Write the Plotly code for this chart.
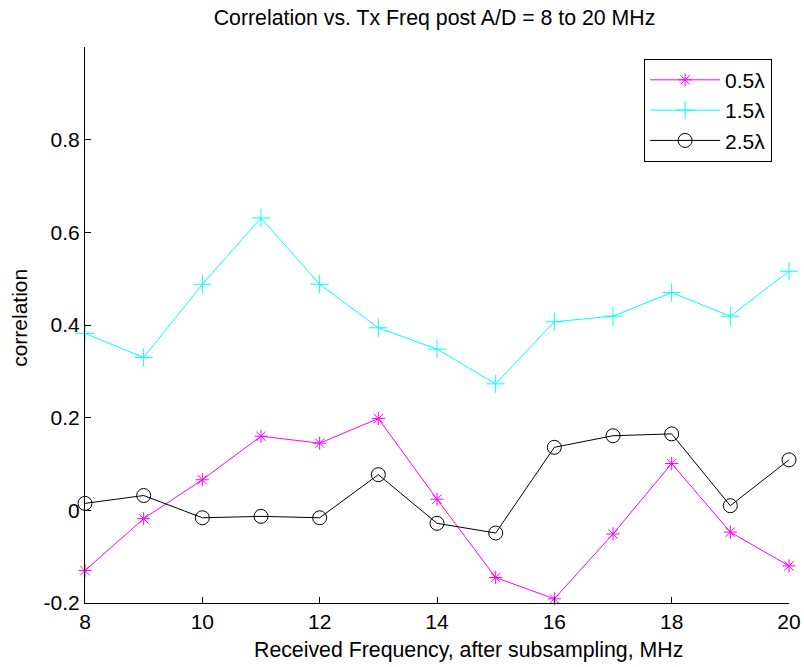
import plotly.graph_objects as go

freq = [8, 9, 10, 11, 12, 13, 14, 15, 16, 17, 18, 19, 20]
corr_05 = [-0.130, -0.018, 0.066, 0.160, 0.145, 0.198, 0.024, -0.145, -0.191, -0.051, 0.101, -0.047, -0.120]
corr_15 = [0.382, 0.330, 0.488, 0.631, 0.488, 0.394, 0.348, 0.273, 0.407, 0.419, 0.470, 0.419, 0.516]
corr_25 = [0.015, 0.032, -0.016, -0.013, -0.016, 0.077, -0.028, -0.049, 0.136, 0.161, 0.165, 0.010, 0.109]
x_ticks = [8, 10, 12, 14, 16, 18, 20]
y_ticks = [-0.2, 0, 0.2, 0.4, 0.6, 0.8]
y_tick_labels = ["-0.2", "0", "0.2", "0.4", "0.6", "0.8"]

FONT = "Liberation Sans, Arial, sans-serif"

fig = go.Figure()
fig.add_trace(go.Scatter(
    x=freq, y=corr_05, name="0.5λ", mode="lines+markers", legendgroup="a",
    line=dict(color="#ff00ff", width=1),
    marker=dict(symbol="asterisk-open", size=11, color="#ff00ff", line=dict(color="#ff00ff", width=1)),
    cliponaxis=False,
))
fig.add_trace(go.Scatter(
    x=freq, y=corr_15, name="1.5λ", mode="lines+markers", legendgroup="b",
    line=dict(color="#00ffff", width=1),
    marker=dict(symbol="cross-thin-open", size=13, color="#00ffff", line=dict(color="#00ffff", width=1)),
    cliponaxis=False,
))
fig.add_trace(go.Scatter(
    x=freq, y=corr_25, name="2.5λ", mode="lines+markers", legendgroup="c",
    line=dict(color="#000000", width=1),
    marker=dict(symbol="circle-open", size=14, color="#000000", line=dict(color="#000000", width=1)),
    cliponaxis=False,
))

fig.update_layout(
    width=804, height=667,
    margin=dict(l=85, r=15, t=47, b=64, autoexpand=False),
    paper_bgcolor="white", plot_bgcolor="white",
    font=dict(family=FONT, size=21, color="black"),
    title=dict(text="Correlation vs. Tx Freq post A/D = 8 to 20 MHz",
               x=0.4965, xref="paper", y=0.973, yref="container", yanchor="middle",
               xanchor="center", font=dict(size=21.3)),
    showlegend=True,
    legend=dict(x=0.976, y=0.979, xanchor="right", yanchor="top",
                bordercolor="black", borderwidth=1, bgcolor="white",
                font=dict(size=21), tracegroupgap=0, itemwidth=70),
    xaxis=dict(range=[8, 20], tickvals=x_ticks, ticks="inside", ticklen=6,
               tickcolor="black", showline=True, linecolor="black", linewidth=1,
               showgrid=False, zeroline=False, mirror=False, automargin=False,
               tickfont=dict(size=21)),
    yaxis=dict(range=[-0.2, 1.0], tickvals=y_ticks, ticktext=y_tick_labels,
               ticks="inside", ticklen=6, tickcolor="black",
               showline=True, linecolor="black", linewidth=1,
               showgrid=False, zeroline=False, mirror=False, automargin=False,
               tickfont=dict(size=21)),
    annotations=[
        dict(text="Received Frequency, after subsampling, MHz", xref="paper", yref="paper",
             x=0.545, y=-0.085, xanchor="center", yanchor="middle", showarrow=False,
             font=dict(size=21.3)),
        dict(text="correlation", xref="paper", yref="paper", textangle=-90,
             x=-0.093, y=0.512, xanchor="center", yanchor="middle", showarrow=False,
             font=dict(size=21)),
    ],
)

fig.write_html("out.html")
